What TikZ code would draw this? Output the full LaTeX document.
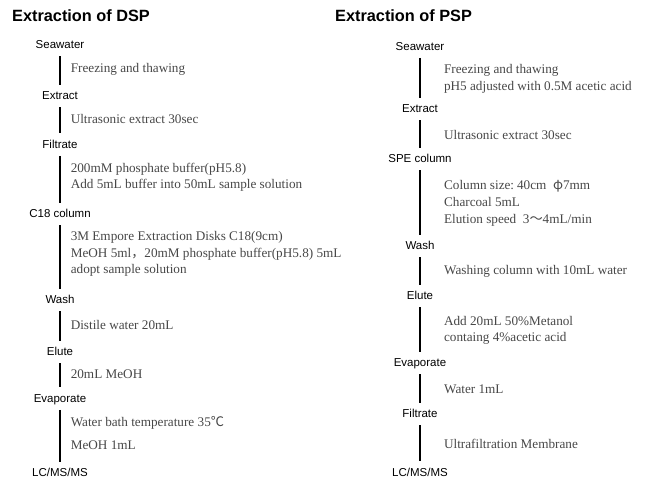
\documentclass[tikz,border=0pt]{standalone}
\usepackage{fontspec}
\setmainfont{Liberation Serif}
\setsansfont{Liberation Sans}
\newfontfamily\cjk{Noto Sans CJK JP}
\usepackage{tikz}
\usetikzlibrary{positioning}

\begin{document}
\begin{tikzpicture}[
    x=1pt, y=1pt,
    heading/.style={inner sep=0pt, anchor=base west,
                    font=\sffamily\bfseries\fontsize{16.3}{19}\selectfont},
    stepname/.style={inner sep=0pt, outer sep=0pt, text height=8pt, text depth=2pt,
                     font=\sffamily\fontsize{11.5}{13}\selectfont},
    note/.style={inner sep=0pt, align=left, text=black!72,
                 font=\fontsize{13.2}{16.7}\selectfont},
    flow/.style={line width=1.6pt, shorten <=5.5pt, shorten >=7pt},
]
\useasboundingbox (0,0) rectangle (649,-481);

% DSP column
\node[heading] (dsp) at (12,-22) {Extraction of DSP};
\node[stepname] (d1) at (60,-46) {Seawater};
\node[stepname, below=41pt of d1]   (d2) {Extract};
\node[stepname, below=38.3pt of d2] (d3) {Filtrate};
\node[stepname, below=59.7pt of d3] (d4) {C18 column};
\node[stepname, below=75.7pt of d4] (d5) {Wash};
\node[stepname, below=42pt of d5]   (d6) {Elute};
\node[stepname, below=36.6pt of d6] (d7) {Evaporate};
\node[stepname, below=64.7pt of d7] (d8) {LC/MS/MS};

\draw[flow] (d1) -- node[note, pos=.45, right=10pt] {Freezing and thawing} (d2);
\draw[flow] (d2) -- node[note, pos=.45, right=10pt] {Ultrasonic extract 30sec} (d3);
\draw[flow] (d3) -- node[note, pos=.45, right=10pt]
    {200mM phosphate buffer(pH5.8)\\Add 5mL buffer into 50mL sample solution} (d4);
\draw[flow] (d4) -- node[note, pos=.45, right=10pt]
    {3M Empore Extraction Disks C18(9cm)\\MeOH 5ml{\cjk ，}20mM phosphate buffer(pH5.8) 5mL\\adopt sample solution} (d5);
\draw[flow] (d5) -- node[note, pos=.45, right=10pt] {Distile water 20mL} (d6);
\draw[flow] (d6) -- node[note, pos=.45, right=10pt] {20mL MeOH} (d7);
\draw[flow] (d7) -- node[note, pos=.45, right=10pt]
    {Water bath temperature 35{\cjk ℃}\\[6.3pt]MeOH 1mL} (d8);

% PSP column
\node[heading] (psp) at (335,-22) {Extraction of PSP};
\node[stepname] (p1) at (420,-47.3) {Seawater};
\node[stepname, below=52.7pt of p1] (p2) {Extract};
\node[stepname, below=40pt of p2]   (p3) {SPE column};
\node[stepname, below=76.7pt of p3] (p4) {Wash};
\node[stepname, below=40pt of p4]   (p5) {Elute};
\node[stepname, below=57.3pt of p5] (p6) {Evaporate};
\node[stepname, below=41pt of p6]   (p7) {Filtrate};
\node[stepname, below=48.3pt of p7] (p8) {LC/MS/MS};

\draw[flow] (p1) -- node[note, right=23.3pt]
    {Freezing and thawing\\pH5 adjusted with 0.5M acetic acid} (p2);
\draw[flow] (p2) -- node[note, right=23.3pt] {Ultrasonic extract 30sec} (p3);
\draw[flow] (p3) -- node[note, right=23.3pt]
    {Column size:\hspace{3pt}40cm\ \ {\cjk φ}7mm\\Charcoal 5mL\\Elution speed\ \ 3{\cjk ～}4mL/min} (p4);
\draw[flow] (p4) -- node[note, right=23.3pt] {Washing column with 10mL water} (p5);
\draw[flow] (p5) -- node[note, right=23.3pt]
    {Add 20mL 50\%Metanol\\containg 4\%acetic acid} (p6);
\draw[flow] (p6) -- node[note, right=23.3pt] {Water 1mL} (p7);
\draw[flow] (p7) -- node[note, right=23.3pt] {Ultrafiltration Membrane} (p8);

\end{tikzpicture}
\end{document}
